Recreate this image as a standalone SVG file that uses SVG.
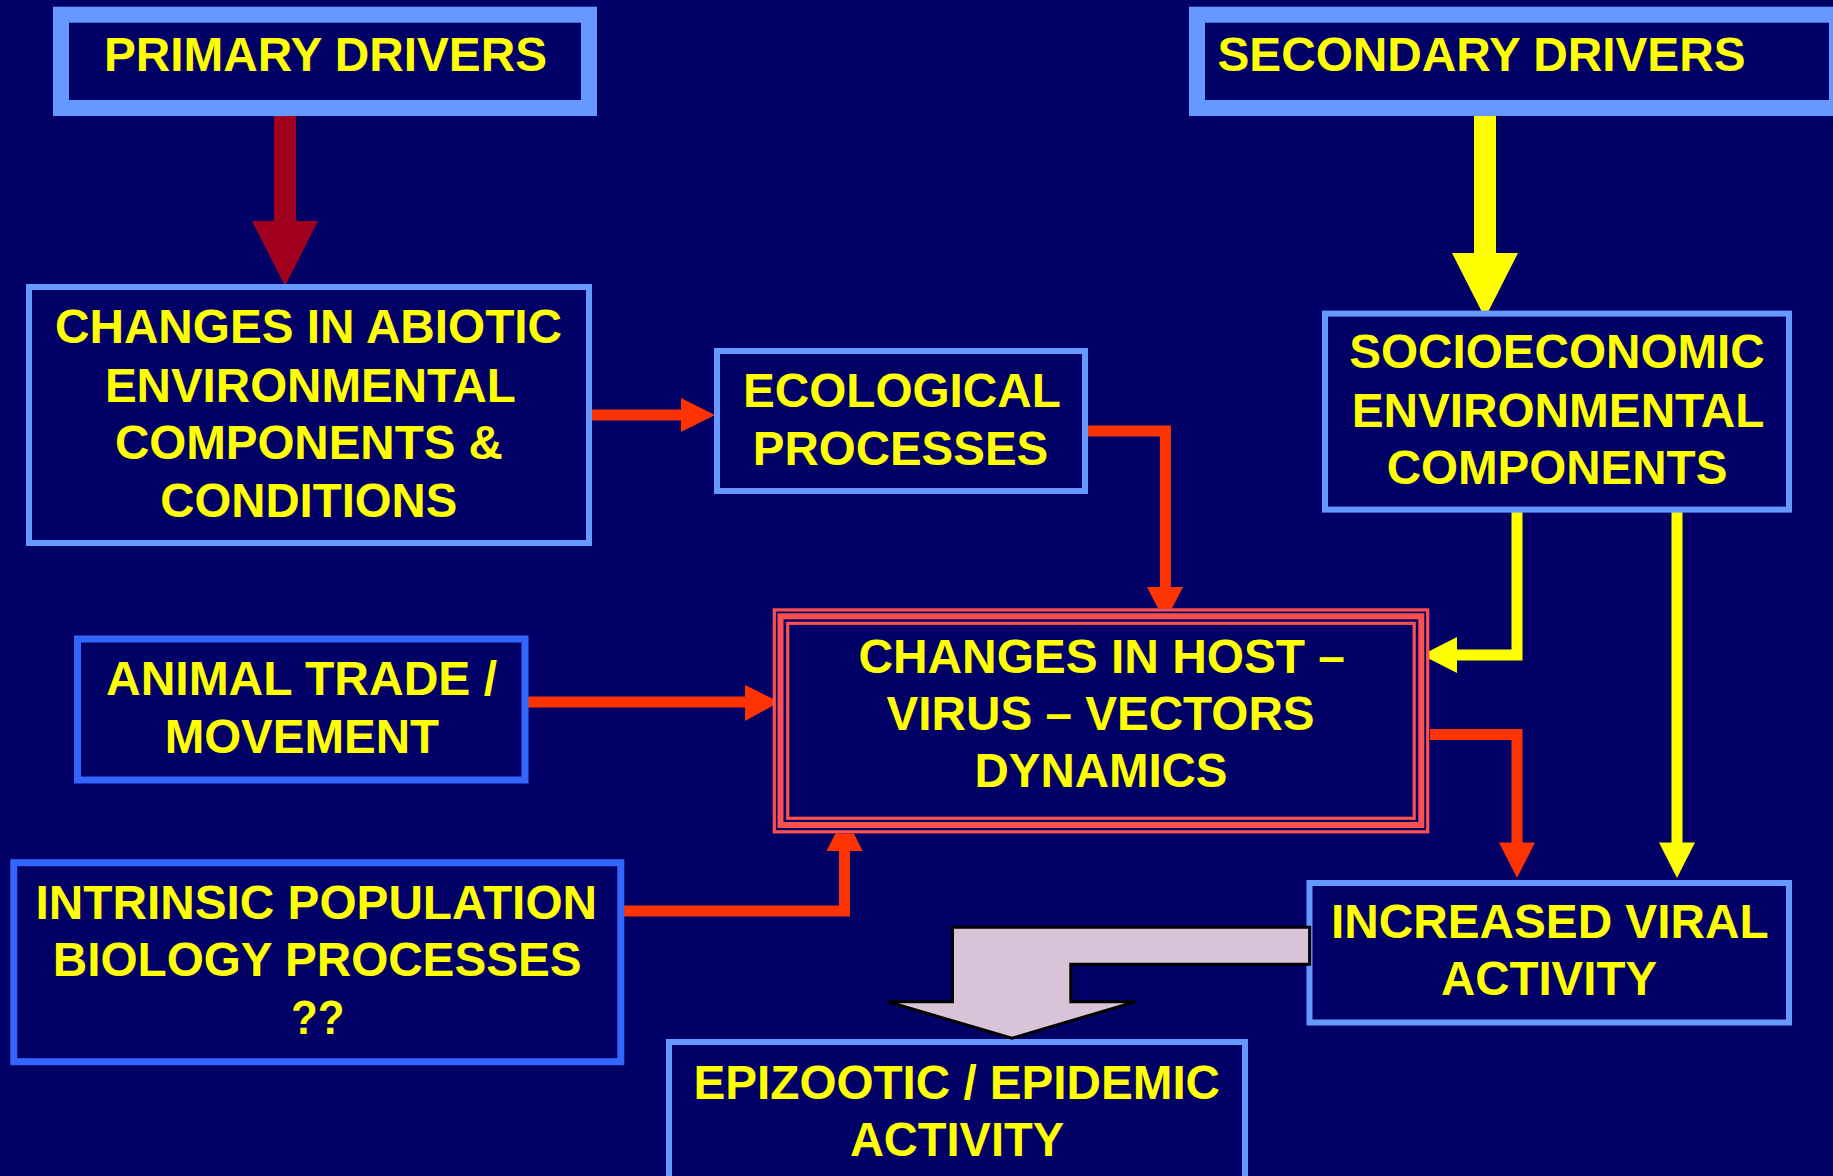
<svg xmlns="http://www.w3.org/2000/svg" width="1833" height="1176" viewBox="0 0 1833 1176">
<style>
.bg{fill:#000066}
.lb{fill:#000066;stroke:#6699FF}
.db{fill:#000066;stroke:#3366FF;stroke-width:7}
.t{font-family:"Liberation Sans",Arial,sans-serif;font-weight:bold;font-size:48px;fill:#FFFF00;text-anchor:middle}
.tl{text-anchor:start}
.red{stroke:#FF3300;fill:none;stroke-width:11;stroke-linejoin:miter}
.redf{fill:#FF3300}
.yel{stroke:#FFFF00;fill:none;stroke-width:11;stroke-linejoin:miter}
.yelf{fill:#FFFF00}
.hb{fill:none;stroke:#FF5050}
</style>
<rect class="bg" x="0" y="0" width="1833" height="1176"/>

<g id="connectors">
  <rect x="274" y="111" width="22" height="111" fill="#A0001E"/>
  <polygon points="252,221 318,221 285,286" fill="#A0001E"/>
  <rect x="1474" y="111" width="22" height="143" class="yelf"/>
  <polygon class="yelf" points="1452,253 1518,253 1485,318"/>
  <line class="red" x1="592" y1="415" x2="683" y2="415"/>
  <polygon class="redf" points="681,398 681,432 715,415"/>
  <polyline class="red" points="1087,431 1165.4,431 1165.4,588"/>
  <polygon class="redf" points="1147,587 1183,587 1165,622"/>
  <line class="red" stroke-width="12" x1="527" y1="702" x2="747" y2="702"/>
  <polygon class="redf" points="745,685 745,721 779.5,702"/>
  <polyline class="red" points="624,911 844.5,911 844.5,849"/>
  <polygon class="redf" points="826.6,851 862.7,851 844.5,815"/>
  <polyline class="yel" points="1517,512 1517,655 1455,655"/>
  <polygon class="yelf" points="1457,637 1457,673 1421.7,655"/>
  <polyline class="red" points="1430,734.5 1517,734.5 1517,845"/>
  <polygon class="redf" points="1499,842.5 1535,842.5 1517,878"/>
  <line class="yel" stroke-width="12" x1="1677" y1="512" x2="1677" y2="845"/>
  <polygon class="yelf" points="1659,842.5 1695,842.5 1677,878"/>
</g>

<g id="primary">
  <rect class="lb" stroke-width="16" x="61" y="14.7" width="528" height="93.3"/>
  <text class="t" x="325.5" y="71" textLength="443" lengthAdjust="spacingAndGlyphs">PRIMARY DRIVERS</text>
</g>

<g id="secondary">
  <rect class="lb" stroke-width="16" x="1197" y="14.7" width="640" height="93.3"/>
  <text class="t tl" x="1217.5" y="71" textLength="528" lengthAdjust="spacingAndGlyphs">SECONDARY DRIVERS</text>
</g>

<g id="abiotic">
  <rect class="lb" stroke-width="6" x="29" y="287" width="560" height="256"/>
  <text class="t" x="308.5" y="343.3" textLength="507" lengthAdjust="spacingAndGlyphs">CHANGES IN ABIOTIC</text>
  <text class="t" x="310.4" y="401.7" textLength="411" lengthAdjust="spacingAndGlyphs">ENVIRONMENTAL</text>
  <text class="t" x="308.9" y="459.3" textLength="388" lengthAdjust="spacingAndGlyphs">COMPONENTS &amp;</text>
  <text class="t" x="308.8" y="516.7" textLength="297" lengthAdjust="spacingAndGlyphs">CONDITIONS</text>
</g>

<g id="ecological">
  <rect class="lb" stroke-width="6" x="717" y="351" width="368" height="140"/>
  <text class="t" x="901.9" y="407.3" textLength="317.7" lengthAdjust="spacingAndGlyphs">ECOLOGICAL</text>
  <text class="t" x="900.5" y="465" textLength="295.5" lengthAdjust="spacingAndGlyphs">PROCESSES</text>
</g>

<g id="socioeconomic">
  <rect class="lb" stroke-width="6" x="1325" y="313.6" width="464" height="196"/>
  <text class="t" x="1557" y="368.4" textLength="415.5" lengthAdjust="spacingAndGlyphs">SOCIOECONOMIC</text>
  <text class="t" x="1558" y="426.7" textLength="412.7" lengthAdjust="spacingAndGlyphs">ENVIRONMENTAL</text>
  <text class="t" x="1557" y="484" textLength="340.7" lengthAdjust="spacingAndGlyphs">COMPONENTS</text>
</g>

<g id="host">
  <rect class="bg" x="773" y="608.5" width="656" height="225"/>
  <rect class="hb" stroke-width="3.2" x="774.3" y="609.9" width="653.4" height="221.9"/>
  <rect class="hb" stroke-width="6" x="780.5" y="616.3" width="640.8" height="208.7"/>
  <rect class="hb" stroke-width="3.2" x="787.7" y="623.3" width="626.5" height="195"/>
  <text class="t" x="1101.7" y="672.7" textLength="486.5" lengthAdjust="spacingAndGlyphs">CHANGES IN HOST –</text>
  <text class="t" x="1100.6" y="730" textLength="428" lengthAdjust="spacingAndGlyphs">VIRUS – VECTORS</text>
  <text class="t" x="1101" y="787.3" textLength="253" lengthAdjust="spacingAndGlyphs">DYNAMICS</text>
</g>

<g id="animal">
  <rect class="db" x="77.5" y="639" width="447.5" height="141"/>
  <text class="t" x="301.5" y="695" textLength="391" lengthAdjust="spacingAndGlyphs">ANIMAL TRADE /</text>
  <text class="t" x="301.8" y="753" textLength="274.3" lengthAdjust="spacingAndGlyphs">MOVEMENT</text>
</g>

<g id="intrinsic">
  <rect class="db" x="13.8" y="862.7" width="607" height="199"/>
  <text class="t" x="316.3" y="919" textLength="561.4" lengthAdjust="spacingAndGlyphs">INTRINSIC POPULATION</text>
  <text class="t" x="317.2" y="976.4" textLength="528.7" lengthAdjust="spacingAndGlyphs">BIOLOGY PROCESSES</text>
  <text class="t" x="317.7" y="1034" textLength="53.4" lengthAdjust="spacingAndGlyphs">??</text>
</g>

<g id="increased">
  <rect class="lb" stroke-width="6" x="1309.5" y="883" width="479.5" height="139.5"/>
  <text class="t" x="1549.8" y="938" textLength="437.5" lengthAdjust="spacingAndGlyphs">INCREASED VIRAL</text>
  <text class="t" x="1549" y="994.5" textLength="216" lengthAdjust="spacingAndGlyphs">ACTIVITY</text>
</g>

<g id="epizootic">
  <rect class="lb" stroke-width="6" x="669" y="1042" width="576" height="150"/>
  <text class="t" x="956.8" y="1099" textLength="526.4" lengthAdjust="spacingAndGlyphs">EPIZOOTIC / EPIDEMIC</text>
  <text class="t" x="957" y="1156" textLength="214.2" lengthAdjust="spacingAndGlyphs">ACTIVITY</text>
</g>

<g id="bigarrow">
  <polygon points="952.5,927.3 1309.6,927.3 1309.6,964.3 1070.8,964.3 1070.8,1001.7 1135.5,1001.7 1011.8,1038.3 887.8,1001.7 952.5,1001.7" fill="#D9C3D9" stroke="#000000" stroke-width="3" stroke-linejoin="miter"/>
</g>
</svg>
